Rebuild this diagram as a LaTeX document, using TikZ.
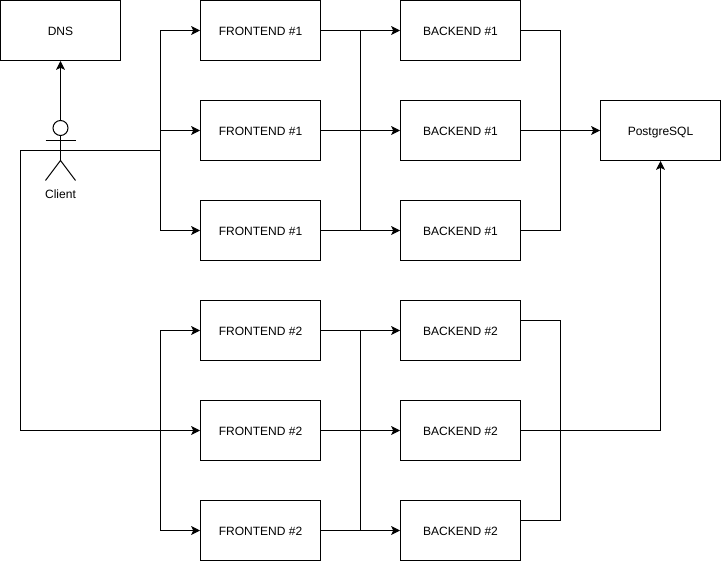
\documentclass[tikz,border=0pt]{standalone}
\usepackage{fontspec}
\setmainfont{Liberation Sans}
\usetikzlibrary{arrows.meta}
\tikzset{
  label/.style={font=\fontsize{8.55pt}{10pt}\selectfont},
  server/.style={draw, line width=0.025cm, minimum width=3.0cm, minimum height=1.5cm, inner sep=0pt, label, text depth=0.2ex, text height=1.57ex},
  wire/.style={line width=0.025cm},
  feed/.style={wire, -{Stealth[length=0.22cm, width=0.22cm, inset=0.05cm]}}
}
\begin{document}
\begin{tikzpicture}
\useasboundingbox (-0.0125, -0.0125) rectangle (18.0125, 14.0125);

\node [server] (dns) at (1.5, 13.25) {DNS};

\node [server] (fa1) at (6.5, 13.25) {FRONTEND \#1};
\node [server] (fa2) at (6.5, 10.75) {FRONTEND \#1};
\node [server] (fa3) at (6.5, 8.25) {FRONTEND \#1};
\node [server] (fb1) at (6.5, 5.75) {FRONTEND \#2};
\node [server] (fb2) at (6.5, 3.25) {FRONTEND \#2};
\node [server] (fb3) at (6.5, 0.75) {FRONTEND \#2};

\node [server] (ba1) at (11.5, 13.25) {BACKEND \#1};
\node [server] (ba2) at (11.5, 10.75) {BACKEND \#1};
\node [server] (ba3) at (11.5, 8.25) {BACKEND \#1};
\node [server] (bb1) at (11.5, 5.75) {BACKEND \#2};
\node [server] (bb2) at (11.5, 3.25) {BACKEND \#2};
\node [server] (bb3) at (11.5, 0.75) {BACKEND \#2};

\node [server] (pg) at (16.5, 10.75) {PostgreSQL};

% client figure
\node [draw, wire, circle, minimum size=0.375cm, inner sep=0pt] (head) at (1.5, 10.8125) {};
\coordinate (armL) at (1.125, 10.5);
\coordinate (armR) at (1.875, 10.5);
\coordinate (hip) at (1.5, 10.0);
\coordinate (legL) at (1.125, 9.5);
\coordinate (legR) at (1.875, 9.5);
\node [label] (client) at (1.5, 9.15) {Client};
\draw [wire] (head) -- (hip);
\draw [wire] (armL) -- (armR);
\draw [wire] (legL) -- (hip) -- (legR);
\draw [feed] (head) -- (dns);

% client to frontends
\coordinate (left) at (0.5, 10.25);
\coordinate (low) at (0.5, 3.25);
\coordinate (taA) at (4.0, 13.25);
\coordinate (tbA) at (4.0, 10.75);
\coordinate (tcA) at (4.0, 8.25);
\coordinate (tmA) at (4.0, 10.25);
\coordinate (taB) at (4.0, 5.75);
\coordinate (tcB) at (4.0, 0.75);
\draw [wire] (tmA) -- (left) -- (low);
\draw [feed] (low) -- (fb2);
\draw [feed] (tcA) -- (taA) -- (fa1);
\draw [feed] (tbA) -- (fa2);
\draw [feed] (taA) |- (fa3);
\draw [feed] (tcB) -- (taB) -- (fb1);
\draw [feed] (taB) |- (fb3);

% frontends to backends
\coordinate (maA) at (9.0, 13.25);
\coordinate (mcA) at (9.0, 8.25);
\coordinate (maB) at (9.0, 5.75);
\coordinate (mcB) at (9.0, 0.75);
\draw [wire] (maA) -- (mcA);
\draw [wire] (maB) -- (mcB);
\draw [feed] (fa1) -- (ba1);
\draw [feed] (fa2) -- (ba2);
\draw [feed] (fa3) -- (ba3);
\draw [feed] (fb1) -- (bb1);
\draw [feed] (fb2) -- (bb2);
\draw [feed] (fb3) -- (bb3);

% backends to database
\coordinate (raA) at (14.0, 13.25);
\coordinate (rcA) at (14.0, 8.25);
\coordinate (oaB) at (13.0, 6.0);
\coordinate (raB) at (14.0, 6.0);
\coordinate (rcB) at (14.0, 1.0);
\coordinate (ocB) at (13.0, 1.0);
\coordinate (under) at (16.5, 3.25);
\draw [wire] (ba1) -- (raA) -- (rcA) -- (ba3);
\draw [feed] (ba2) -- (pg);
\draw [wire] (oaB) -- (raB) -- (rcB) -- (ocB);
\draw [feed] (bb2) -- (under) -- (pg);

\end{tikzpicture}
\end{document}
